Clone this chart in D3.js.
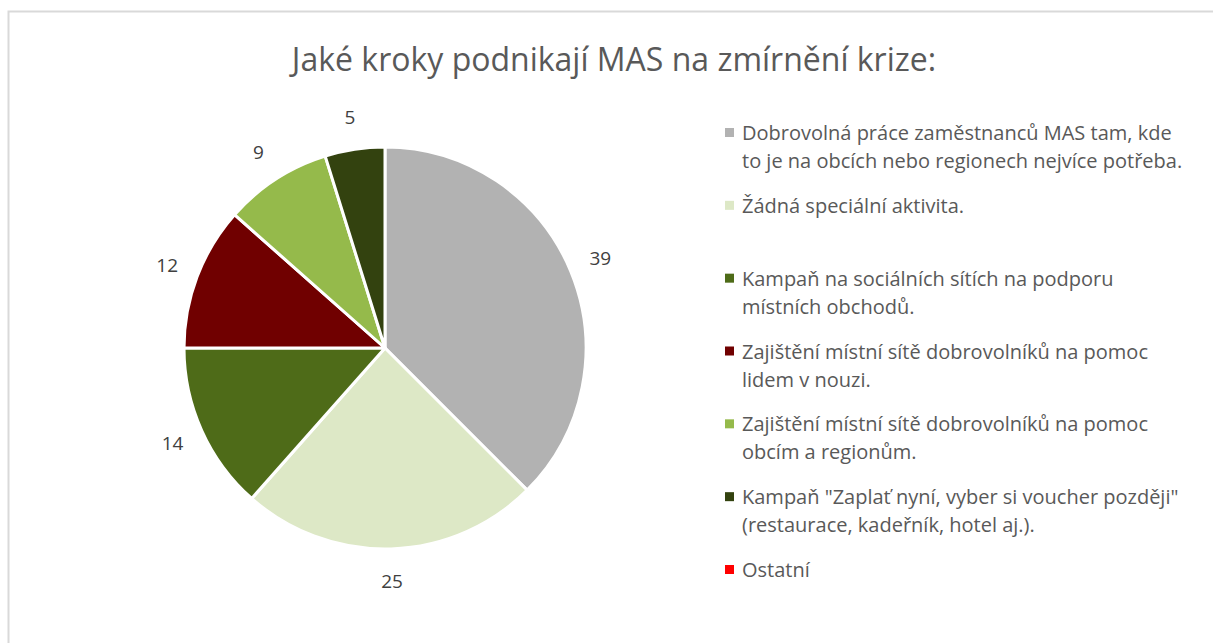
<!DOCTYPE html>
<html>
<head>
<meta charset="utf-8">
<script src="https://cdn.jsdelivr.net/npm/d3@7"></script>
<style>
  body { margin: 0; background: #fff; }
  svg { display: block; font-family: "Open Sans", "Noto Sans", sans-serif; }
</style>
</head>
<body>
<svg id="svg" width="1213" height="643"></svg>
<script>
// data
const categories = [
  "Dobrovolná práce zaměstnanců MAS tam, kde|to je na obcích nebo regionech nejvíce potřeba.",
  "Žádná speciální aktivita.",
  "Kampaň na sociálních sítích na podporu|místních obchodů.",
  "Zajištění místní sítě dobrovolníků na pomoc|lidem v nouzi.",
  "Zajištění místní sítě dobrovolníků na pomoc|obcím a regionům.",
  "Kampaň \"Zaplať nyní, vyber si voucher později\"|(restaurace, kadeřník, hotel aj.).",
  "Ostatní"
];
const values = [39, 25, 14, 12, 9, 5, 0];
const colors = ["#b2b2b2", "#dde8c6", "#4e6b18", "#700000", "#95ba4b", "#33420f", "#ff0000"];

const svg = d3.select("#svg");

// chart frame (only top/left edge visible)
svg.append("rect")
   .attr("x", 8.5).attr("y", 11.5)
   .attr("width", 1230).attr("height", 660)
   .attr("fill", "none").attr("stroke", "#d9d9d9").attr("stroke-width", 2);

svg.append("text")
   .attr("x", 614).attr("y", 71)
   .attr("text-anchor", "middle")
   .attr("font-size", 32)
   .attr("fill", "#595959")
   .text("Jaké kroky podnikají MAS na zmírnění krize:");

// pie
const cx = 385, cy = 348, r = 201;
const pie = d3.pie().sort(null).value(d => d.v);
const arcs = pie(values.map((v, i) => ({v: v, i: i})));
const arc = d3.arc().innerRadius(0).outerRadius(r);
const labelArc = d3.arc().innerRadius(233).outerRadius(233);

const g = svg.append("g").attr("transform", `translate(${cx},${cy})`);

g.selectAll("path")
  .data(arcs.filter(d => d.data.v > 0))
  .enter().append("path")
  .attr("d", arc)
  .attr("fill", d => colors[d.data.i])
  .attr("stroke", "#fff")
  .attr("stroke-width", 3)
  .attr("stroke-linejoin", "round");

g.selectAll("text.lbl")
  .data(arcs.filter(d => d.data.v > 0))
  .enter().append("text")
  .attr("class", "lbl")
  .attr("transform", d => `translate(${labelArc.centroid(d)})`)
  .attr("text-anchor", "middle")
  .attr("dy", "0.35em")
  .attr("font-size", 19)
  .attr("fill", "#404040")
  .text(d => d.data.v);

// legend
const legY = d3.scaleLinear().domain([0, categories.length - 1]).range([133, 570]);
const leg = svg.append("g");
categories.forEach((c, i) => {
  const y = legY(i);
  leg.append("rect")
     .attr("x", 725).attr("y", y - 5)
     .attr("width", 9).attr("height", 9)
     .attr("fill", colors[i]);
  const t = leg.append("text")
     .attr("x", 742).attr("y", y)
     .attr("font-size", 20)
     .attr("fill", "#595959");
  c.split("|").forEach((line, j) => {
    t.append("tspan").attr("x", 742).attr("dy", j === 0 ? "0.35em" : 28).text(line);
  });
});
</script>
</body>
</html>
